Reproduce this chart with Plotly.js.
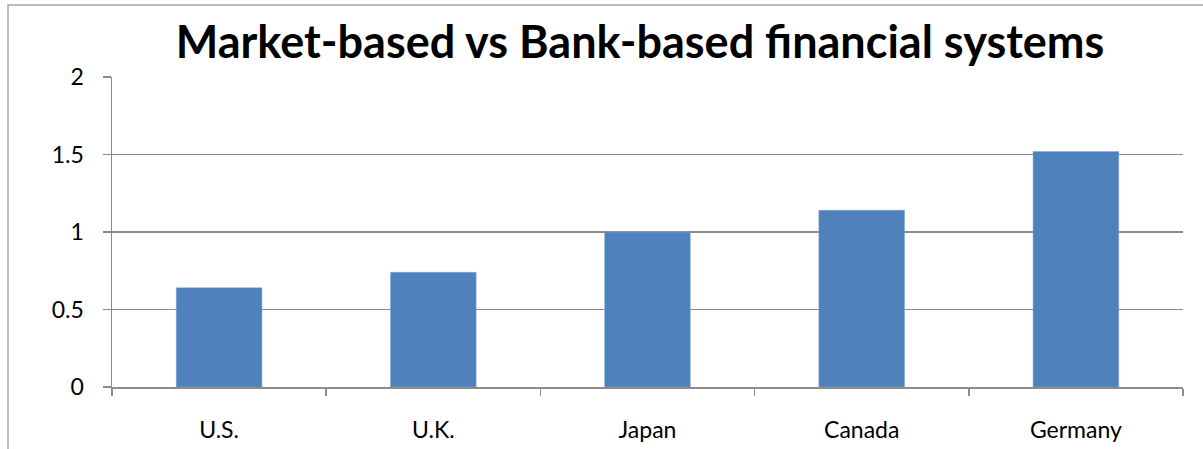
<!DOCTYPE html>
<html>
<head>
<meta charset="utf-8">
<script src="https://cdn.plot.ly/plotly-3.0.1.min.js"></script>
<style>html,body{margin:0;padding:0;background:#fff;}#chart{width:1203px;height:449px;}</style>
</head>
<body>
<div id="chart"></div>
<script>
const categories = ["U.S.", "U.K.", "Japan", "Canada", "Germany"];
const values = [0.64, 0.74, 1.0, 1.14, 1.52];
const yTickVals = [0, 0.5, 1, 1.5, 2];
const yTickText = ["0", "0.5", "1", "1.5", "2"];

const FONT = "Lato, 'Open Sans', sans-serif";
const trace = {
  type: "bar",
  x: categories,
  y: values,
  marker: {color: "#4F81BD", line: {color: "#7FA4D6", width: 0.5}},
  hoverinfo: "x+y"
};
const layout = {
  width: 1203, height: 449,
  margin: {l: 112, r: 20, t: 77, b: 62},
  paper_bgcolor: "#fff", plot_bgcolor: "#fff",
  showlegend: false,
  bargap: 0.6,
  title: {
    text: "<b>Market-based vs Bank-based financial systems</b>",
    font: {family: FONT, size: 45, color: "#000"},
    xref: "container", x: 0.532, xanchor: "center",
    yref: "container", y: 0.905, yanchor: "middle"
  },
  xaxis: {
    type: "category",
    showline: true, linecolor: "#8c8c8c", linewidth: 1.5,
    ticks: "outside", tickson: "boundaries", ticklen: 7, tickcolor: "#8c8c8c", tickwidth: 1.5,
    showgrid: false,
    tickfont: {family: FONT, size: 23, color: "#000"},
    ticklabelstandoff: 22,
    automargin: false
  },
  yaxis: {
    range: [0, 2],
    tickvals: yTickVals, ticktext: yTickText,
    showline: true, linecolor: "#8c8c8c", linewidth: 1.5,
    ticks: "outside", ticklen: 8, tickcolor: "#8c8c8c", tickwidth: 1.5,
    showgrid: true, gridcolor: "#8c8c8c", gridwidth: 1.5,
    zeroline: false,
    tickfont: {family: FONT, size: 23, color: "#000"},
    ticklabelstandoff: 14,
    automargin: false
  },
  shapes: [{
    type: "rect", xref: "paper", yref: "paper",
    x0: (8 - 112) / 1071, x1: (1215 - 112) / 1071,
    y0: (387 - 5) / 310, y1: (387 - 470) / 310,
    line: {color: "#a6a6a6", width: 1.5}, fillcolor: "rgba(0,0,0,0)", layer: "below"
  }]
};
Plotly.newPlot("chart", [trace], layout, {displayModeBar: false, staticPlot: true});
</script>
</body>
</html>
